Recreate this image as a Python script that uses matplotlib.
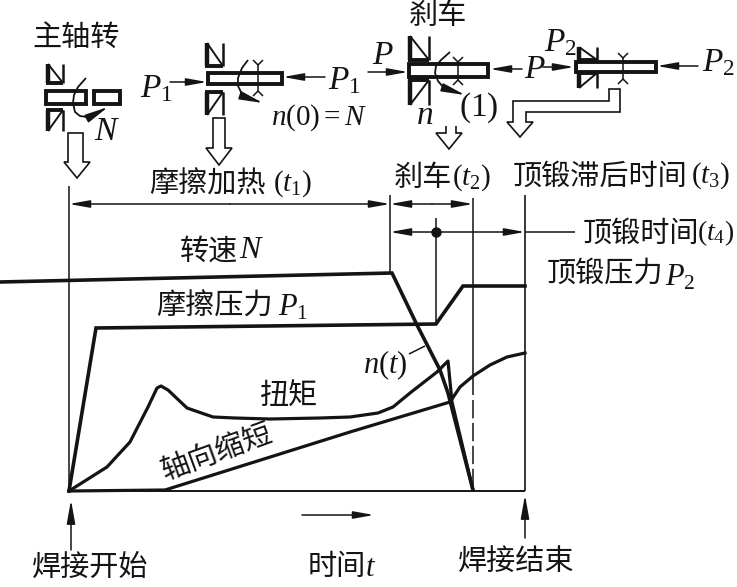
import matplotlib
matplotlib.use('Agg')
import matplotlib.pyplot as plt
from matplotlib.patches import Polygon, Rectangle

plt.rcParams['mathtext.fontset'] = 'custom'
plt.rcParams['mathtext.rm'] = 'Liberation Serif'
plt.rcParams['mathtext.it'] = 'Liberation Serif:italic'

CJK = 'Noto Sans CJK SC'
INK = '#141414'

# curves (x, y in picture pixels)
speed_x = [0, 392, 417, 440, 448, 473]
speed_y = [282, 273, 325, 370, 393, 490]
press_x = [69, 96, 436, 463, 525]
press_y = [491, 328, 324, 286, 286]
torque_x = [69, 107, 130, 148, 157, 161, 168, 187, 213, 235, 270, 320, 350, 378, 393, 410, 437, 448, 452, 473]
torque_y = [491, 467, 442, 407, 388, 386, 390, 408, 417, 418, 419, 418, 417, 413, 407, 393, 372, 361, 402, 490]
short_x = [69, 165, 350, 450, 460, 473, 490, 507, 525]
short_y = [491, 490, 432, 402, 387, 376, 365, 357, 353]

# rotation arrows of the sketches
rot1_x = [86, 78, 74, 73, 75, 80, 87, 97, 108]
rot1_y = [78, 87, 95, 103, 112, 116, 117, 113, 107]
rot2_x = [248, 242, 238, 238, 241, 247, 254, 263]
rot2_y = [60, 68, 78, 86, 92, 97, 100, 103]
rot3_x = [450, 441, 436, 435, 438, 443, 453, 465]
rot3_y = [52, 60, 66, 73, 81, 87, 91, 95]

# hollow arrows
hollow1 = [(68, 133), (83, 133), (83, 162), (90, 162), (77, 178), (64, 162), (68, 162)]
hollow2 = [(213, 118), (225, 118), (225, 148), (232, 148), (219, 165), (206, 148), (213, 148)]
hollow3 = [(446, 126), (446, 133), (436, 133), (449, 149), (462, 133), (456, 133), (456, 126)]
hollow4 = [(620, 89), (620, 112), (526, 112), (526, 122), (533, 122), (520, 137),
           (507, 122), (513, 122), (513, 101), (609, 101), (609, 89)]

# x0, x1, y_outer, y_inner of each chuck
chucks = [(46, 63, 64, 83), (46, 63, 131, 110), (205, 223, 43, 66), (205, 223, 115, 92),
          (408, 429, 36, 60), (408, 429, 105, 80), (577, 597, 47, 60), (577, 597, 88, 73)]
# x0, y0, x1, y1 of each workpiece
bars = [(46, 91, 86, 104), (94, 91, 120, 104), (208, 73, 282, 84),
        (409, 64, 488, 77), (576, 62, 656, 72)]
# x, y_top, y_bottom of the weld flash
flashes = [(258, 60, 96), (458, 57, 85), (623, 53, 84)]

fig = plt.figure(figsize=(7.37, 5.87), dpi=100)
ax = fig.add_axes([0, 0, 1, 1])
ax.set_xlim(0, 737)
ax.set_ylim(587, 0)
ax.axis('off')


def line(xs, ys, lw=1.1, **kw):
    ax.plot(xs, ys, color=INK, lw=lw, solid_capstyle='butt', **kw)


def arrow(x0, y0, x1, y1, lw=1.1, head=13):
    ax.annotate('', xy=(x1, y1), xytext=(x0, y0),
                arrowprops=dict(arrowstyle='-|>,head_length=0.95,head_width=0.17',
                                mutation_scale=head, color=INK, lw=lw,
                                shrinkA=0, shrinkB=0))


def zh(x, y, s, size=21, rot=0):
    ax.text(x, y + 2, s, family=CJK, fontsize=size, color=INK, ha='left', va='center',
            rotation=rot, rotation_mode='anchor')


def math(x, y, s, size=24):
    ax.text(x, y, '$' + s + '$', fontsize=size, color=INK, ha='left', va='center')


# main curves
ax.plot(speed_x, speed_y, color=INK, lw=2.6, solid_joinstyle='miter')
ax.plot(press_x, press_y, color=INK, lw=2.6, solid_joinstyle='miter')
ax.plot(torque_x, torque_y, color=INK, lw=2.3)
ax.plot(short_x, short_y, color=INK, lw=2.3)

# frame and time marks
line([69, 69], [186, 491])
line([69, 525], [491, 491], lw=1.4)
line([525, 525], [195, 491], lw=1.2)
line([390, 390], [195, 273])
line([473, 473], [198, 395])
line([473, 473], [400, 490], ls=(0, (12, 3)))
line([436, 436], [218, 324])
ax.plot([436], [232], 'o', color=INK, ms=6.5)

arrow(230, 204, 69, 204)
arrow(230, 204, 390, 204)
arrow(432, 204, 390, 204)
arrow(432, 204, 473, 204)
arrow(436, 232, 390, 232)
arrow(436, 232, 525, 232)
line([525, 575], [232, 232])
line([409, 425], [354, 346])

arrow(71, 550, 71, 500, head=15)
arrow(525, 538, 525, 495, head=15)
arrow(302, 515, 374, 515)

# sketches
for x0, x1, yo, yi in chucks:
    line([x0 + 2, x0 + 2], [yo, yi], lw=3.2)
    line([x0, x1], [yi, yi], lw=2.8)
    line([x1, x1], [yo, yi], lw=1.8)
    line([x0 + 2, x1], [yo, yi], lw=1.4)
for x0, y0, x1, y1 in bars:
    ax.add_patch(Rectangle((x0, y0), x1 - x0, y1 - y0, fc='white', ec=INK, lw=2.8, zorder=3))
for x, yt, yb in flashes:
    line([x, x], [yt + 4, yb - 4], zorder=4)
    line([x - 5, x, x + 5], [yt, yt + 5, yt], zorder=4)
    line([x - 5, x, x + 5], [yb, yb - 5, yb], zorder=4)
for xs, ys in [(rot1_x, rot1_y), (rot2_x, rot2_y), (rot3_x, rot3_y)]:
    line(xs[:-1], ys[:-1], lw=1.3, zorder=4)
    arrow(xs[-2], ys[-2], xs[-1], ys[-1], head=15)
for pts in [hollow1, hollow2, hollow3, hollow4]:
    ax.add_patch(Polygon(pts, closed=pts is not hollow3, fc='white', ec=INK, lw=1.2))

arrow(170, 82, 207, 82)
arrow(325, 77, 283, 77)
arrow(368, 72, 408, 72)
arrow(522, 69, 490, 69)
arrow(543, 67, 574, 67)
arrow(698, 66, 657, 66)

# text
zh(32, 36, '主轴转')
math(94, 130, 'N')
math(140, 88, 'P_1')
math(328, 80, 'P_1')
math(271, 118, 'n(0){=}N', 21)
zh(409, 14, '刹车')
math(372, 54, 'P')
math(416, 115, 'n')
math(459, 108, '(1)')
math(524, 69, 'P')
math(544, 42, 'P_2')
math(702, 62, 'P_2')

zh(149, 183, '摩擦加热')
math(273, 184, '(t_1)', 21)
zh(394, 176, '刹车')
math(452, 178, '(t_2)', 21)
zh(513, 175, '顶锻滞后时间')
math(691, 176, '(t_3)', 21)
zh(583, 232, '顶锻时间')
math(697, 233, '(t_4)', 20)

zh(180, 250, '转速')
math(239, 250, 'N', 23)
zh(156, 305, '摩擦压力')
math(278, 307, 'P_1', 22)
zh(547, 272, '顶锻压力')
math(665, 277, 'P_2', 22)
math(363, 365, 'n(t)', 22)
zh(260, 395, '扭矩')
zh(162, 471, '轴向缩短', rot=20)
zh(32, 566, '焊接开始')
zh(308, 565, '时间')
math(365, 567, 't', 22)
zh(458, 560, '焊接结束')

fig.savefig('out.png', dpi=100, facecolor='white')
